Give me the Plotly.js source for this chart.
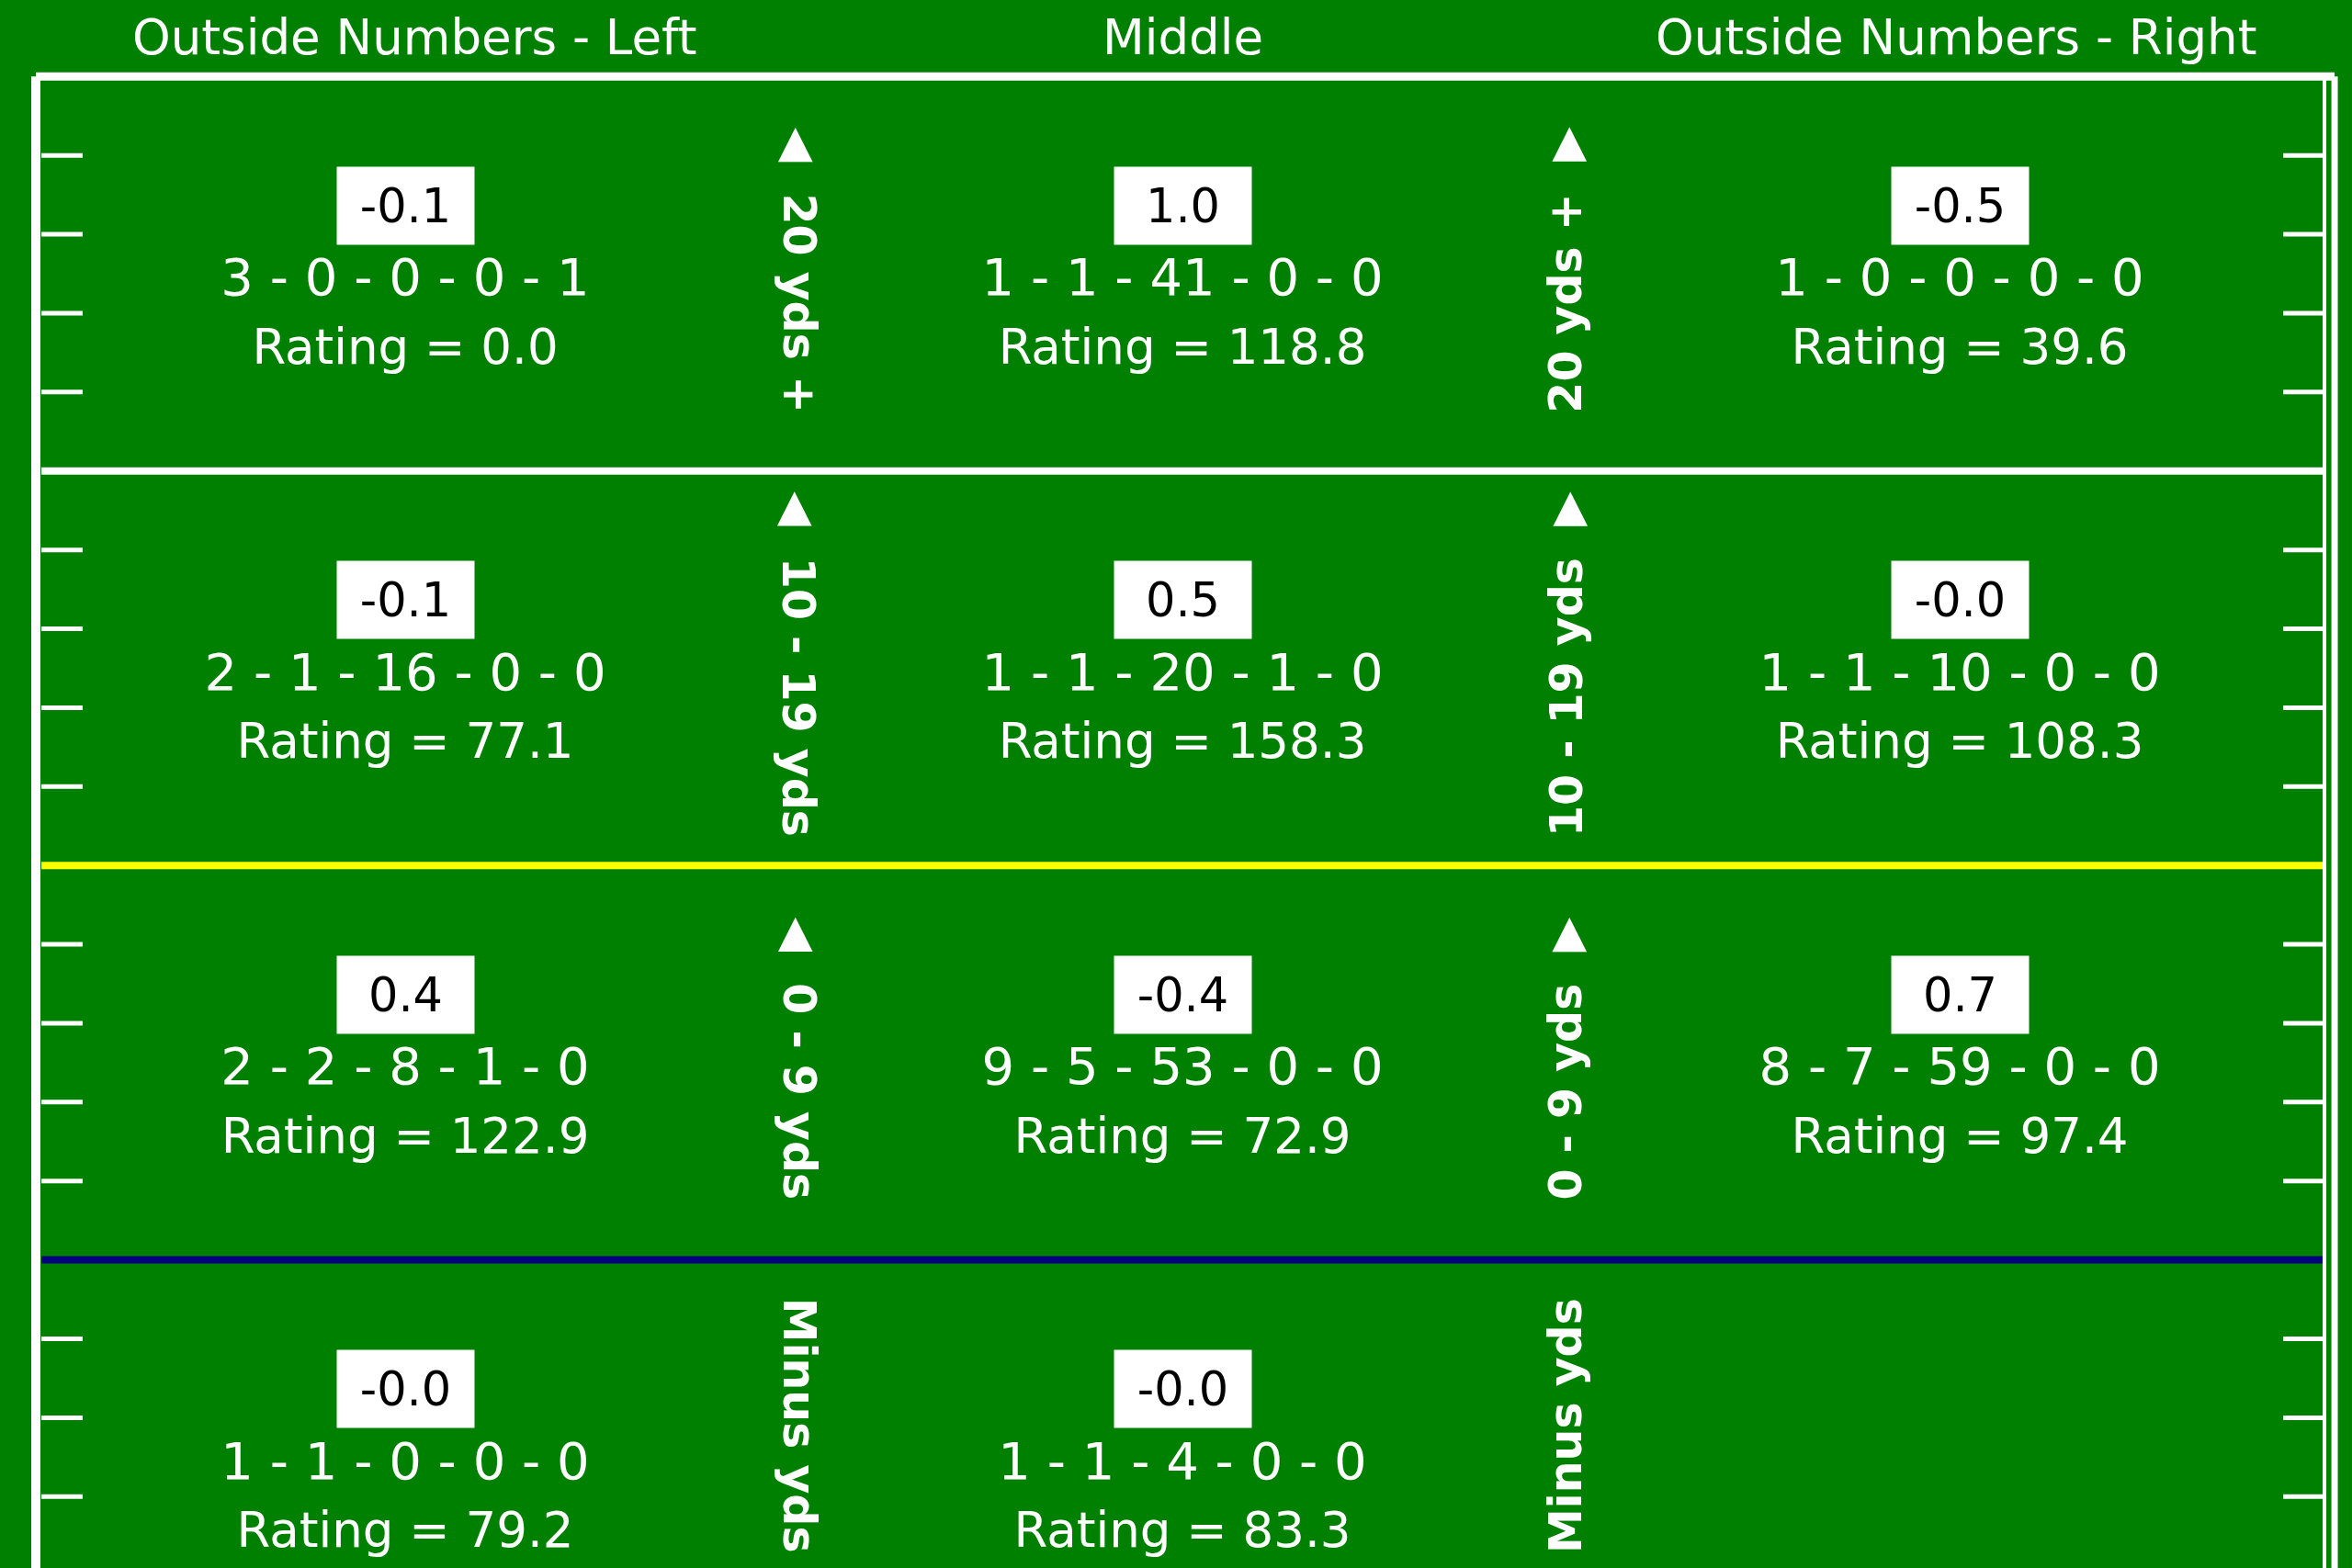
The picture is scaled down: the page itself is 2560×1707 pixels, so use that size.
<!DOCTYPE html>
<html>
<head>
<meta charset="utf-8">
<script src="https://cdn.plot.ly/plotly-3.0.1.min.js"></script>
<style>
  html, body { margin: 0; padding: 0; background: #008000; }
  #chart { width: 2560px; height: 1707px; }
</style>
</head>
<body>
<div id="chart"></div>
<script>
// ---------- data ----------
const zones = ["Outside Numbers - Left", "Middle", "Outside Numbers - Right"];
const depths = ["20 yds +", "10 - 19 yds", "0 - 9 yds", "Minus yds"];
const depthArrow = [true, true, true, false];

const epaText = [
  ["-0.1", "1.0", "-0.5"],
  ["-0.1", "0.5", "-0.0"],
  ["0.4", "-0.4", "0.7"],
  ["-0.0", "-0.0", null]
];
const att  = [[3, 1, 1], [2, 1, 1], [2, 9, 8], [1, 1, null]];
const comp = [[0, 1, 0], [1, 1, 1], [2, 5, 7], [1, 1, null]];
const yds  = [[0, 41, 0], [16, 20, 10], [8, 53, 59], [0, 4, null]];
const td   = [[0, 0, 0], [0, 1, 0], [1, 0, 0], [0, 0, null]];
const ints = [[1, 0, 0], [0, 0, 0], [0, 0, 0], [0, 0, null]];
const rating = [
  [0.0, 118.8, 39.6],
  [77.1, 158.3, 108.3],
  [122.9, 72.9, 97.4],
  [79.2, 83.3, null]
];

// ---------- layout constants ----------
const GREEN = "#008000";
const FONT = "DejaVu Sans";
const boxOffset = 0.327, lineOffset = 0.522, ratingOffset = 0.697;
const labelCenter = [0.49, 0.49, 0.49, 0.42];
const frameL = -0.4752, frameR = 2.4823, innerR = 2.4693, innerL = -0.468;
const tickLen = 0.053;

// ---------- traces ----------
const lx = [], ly = [], lt = [];
const rx = [], ry = [], rt = [];
const annotations = [];

for (let r = 0; r < depths.length; r++) {
  for (let c = 0; c < zones.length; c++) {
    if (att[r][c] === null) continue;
    lx.push(c); ly.push(r + lineOffset);
    lt.push([att[r][c], comp[r][c], yds[r][c], td[r][c], ints[r][c]].join(" - "));
    rx.push(c); ry.push(r + ratingOffset);
    rt.push("Rating = " + rating[r][c].toFixed(1));
    annotations.push({
      xref: "x", yref: "y", x: c, y: r + boxOffset,
      text: epaText[r][c], showarrow: false,
      bgcolor: "#ffffff", width: 147, height: 82,
      font: { family: FONT, size: 51, color: "#000000" },
      xanchor: "center", yanchor: "middle"
    });
  }
}

// column headers
const headerShift = [0.012, 0, -0.005];
zones.forEach((z, c) => {
  annotations.push({
    xref: "x", yref: "y", x: c + headerShift[c], y: -0.099,
    text: z, showarrow: false,
    font: { family: FONT, size: 53, color: "#ffffff" },
    xanchor: "center", yanchor: "middle"
  });
});

// rotated depth labels between the columns
depths.forEach((d, r) => {
  const nb = "\u00A0";
  const leftTxt = depthArrow[r] ? "\u25C0" + nb + nb + d : d;
  const rightTxt = depthArrow[r] ? d + nb + nb + "\u25B6" : d;
  annotations.push({
    xref: "x", yref: "y", x: 0.506, y: r + labelCenter[r],
    text: leftTxt, textangle: 90, showarrow: false,
    font: { family: FONT, size: 49, color: "#ffffff", weight: "bold" },
    xanchor: "center", yanchor: "middle"
  });
  annotations.push({
    xref: "x", yref: "y", x: 1.494, y: r + labelCenter[r],
    text: rightTxt, textangle: -90, showarrow: false,
    font: { family: FONT, size: 49, color: "#ffffff", weight: "bold" },
    xanchor: "center", yanchor: "middle"
  });
});

// ---------- field shapes ----------
const shapes = [];
const lineColors = ["#ffffff", "#ffff00", "#000080"];
// hash marks
for (let r = 0; r < depths.length; r++) {
  for (let k = 1; k <= 4; k++) {
    const y = r + k / 5;
    shapes.push({ type: "line", xref: "x", yref: "y", x0: innerL, x1: innerL + tickLen, y0: y, y1: y,
      line: { color: "#ffffff", width: 5 } });
    shapes.push({ type: "line", xref: "x", yref: "y", x0: innerR - tickLen, x1: innerR, y0: y, y1: y,
      line: { color: "#ffffff", width: 5 } });
  }
}
// row separator lines
for (let r = 1; r < depths.length; r++) {
  shapes.push({ type: "line", xref: "x", yref: "y", x0: innerL, x1: innerR, y0: r, y1: r,
    line: { color: lineColors[r - 1], width: 8 } });
}
// outer frame
shapes.push({ type: "line", xref: "x", yref: "y", x0: frameL, x1: frameR, y0: 0, y1: 0, line: { color: "#ffffff", width: 9 } });
shapes.push({ type: "line", xref: "x", yref: "y", x0: frameL, x1: frameL, y0: 0, y1: 4.2, line: { color: "#ffffff", width: 10 } });
shapes.push({ type: "line", xref: "x", yref: "y", x0: frameR, x1: frameR, y0: 0, y1: 4.2, line: { color: "#ffffff", width: 7 } });
shapes.push({ type: "line", xref: "x", yref: "y", x0: innerR, x1: innerR, y0: 0, y1: 4.2, line: { color: "#ffffff", width: 4 } });

const traces = [
  { type: "scatter", mode: "text", x: lx, y: ly, text: lt, textposition: "middle center",
    textfont: { family: FONT, size: 56, color: "#ffffff" }, hoverinfo: "skip", showlegend: false },
  { type: "scatter", mode: "text", x: rx, y: ry, text: rt, textposition: "middle center",
    textfont: { family: FONT, size: 53, color: "#ffffff" }, hoverinfo: "skip", showlegend: false }
];

const layout = {
  width: 2560, height: 1707,
  margin: { l: 0, r: 0, t: 0, b: 0, pad: 0 },
  paper_bgcolor: GREEN, plot_bgcolor: GREEN,
  showlegend: false,
  xaxis: { range: [-0.5213, 2.5047], visible: false, fixedrange: true },
  yaxis: { range: [3.781, -0.194], visible: false, fixedrange: true },
  shapes: shapes,
  annotations: annotations
};

Plotly.newPlot("chart", traces, layout, { displayModeBar: false, staticPlot: true });
</script>
</body>
</html>
